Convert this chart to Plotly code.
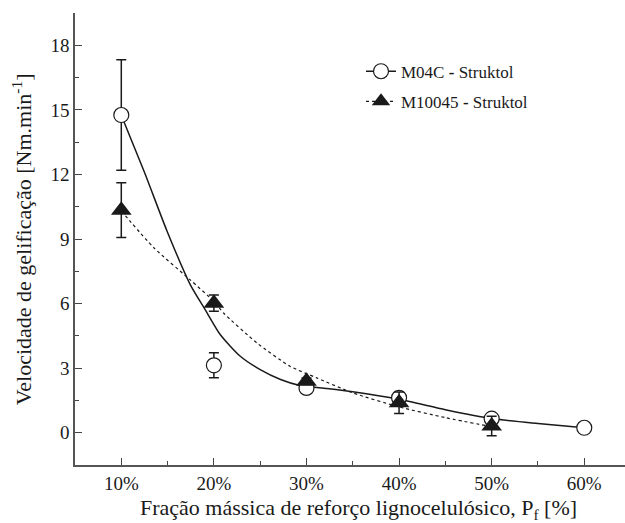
import plotly.graph_objects as go

# Measured data
frac = [10, 20, 30, 40, 50, 60]
m04c = [14.76, 3.13, 2.08, 1.62, 0.65, 0.23]
m04c_err = [2.57, 0.58, 0.2, 0.2, 0.2, 0.2]

frac_b = [10, 20, 30, 40, 50]
m10045 = [10.34, 6.02, 2.39, 1.39, 0.31]
m10045_err = [1.27, 0.38, 0.15, 0.5, 0.45]

# Fitted curves
fit_a_x = [10, 12.5, 14.9, 17.46, 19.07, 20.7, 22.85, 25.0, 27.2, 29.3, 32.2, 35.0, 40.0, 45.0, 50.0, 55.0, 60.0]
fit_a_y = [14.75, 12.1, 9.41, 6.87, 5.71, 4.55, 3.55, 2.93, 2.47, 2.19, 2.05, 1.9, 1.55, 1.07, 0.66, 0.43, 0.23]
fit_b_x = [10, 13.5, 17.45, 20, 21.05, 24.65, 28.25, 31.1, 35, 40, 45, 50]
fit_b_y = [10.3, 8.6, 7.1, 6.1, 5.56, 4.17, 3.08, 2.55, 1.85, 1.2, 0.7, 0.28]

x_ticks = [10, 20, 30, 40, 50, 60]
x_ticklabels = ["10%", "20%", "30%", "40%", "50%", "60%"]
y_ticks = [0, 3, 6, 9, 12, 15, 18]

FONT = "'Liberation Serif', 'Times New Roman', Times, serif"
INK = "#1a1a1a"

fig = go.Figure()

fig.add_trace(go.Scatter(x=fit_a_x, y=fit_a_y, mode="lines",
                         line=dict(color=INK, width=1.5, shape="spline", smoothing=0.6),
                         showlegend=False, hoverinfo="skip"))
fig.add_trace(go.Scatter(x=fit_b_x, y=fit_b_y, mode="lines",
                         line=dict(color=INK, width=1.2, dash="dot", shape="spline", smoothing=0.6),
                         showlegend=False, hoverinfo="skip"))

fig.add_trace(go.Scatter(x=frac, y=m04c, mode="markers",
                         marker=dict(symbol="circle", size=15, color="white", line=dict(color=INK, width=1.2)),
                         error_y=dict(type="data", array=m04c_err, color=INK, thickness=1.5, width=5),
                         showlegend=False))
fig.add_trace(go.Scatter(x=frac_b, y=m10045, mode="markers",
                         marker=dict(symbol="triangle-up", size=18, color=INK, line=dict(color=INK, width=0)),
                         error_y=dict(type="data", array=m10045_err, color=INK, thickness=1.5, width=5),
                         showlegend=False))

# legend entries
fig.add_trace(go.Scatter(x=[None], y=[None], mode="lines+markers", name="M04C <b>-</b> Struktol",
                         legendgroup="a",
                         line=dict(color=INK, width=1.5),
                         marker=dict(symbol="circle", size=15, color="white", line=dict(color=INK, width=1.2))))
fig.add_trace(go.Scatter(x=[None], y=[None], mode="lines+markers", name="M10045 <b>-</b> Struktol",
                         legendgroup="b",
                         line=dict(color=INK, width=1.2, dash="dot"),
                         marker=dict(symbol="triangle-up", size=18, color=INK)))

fig.add_annotation(text="Velocidade de gelificação [Nm.min<sup>-1</sup>]", textangle=-90,
                   xref="paper", yref="paper", x=-0.096, y=0.5, xanchor="center", yanchor="middle",
                   showarrow=False, font=dict(family=FONT, size=22, color=INK))
fig.add_annotation(text="Fração mássica de reforço lignocelulósico, P<sub>f</sub> [%]",
                   xref="paper", yref="paper", x=0.515, y=-0.097, xanchor="center", yanchor="middle",
                   showarrow=False, font=dict(family=FONT, size=22, color=INK))

fig.update_layout(
    width=625, height=523,
    margin=dict(l=75, r=0, t=13, b=58),
    paper_bgcolor="white", plot_bgcolor="white",
    font=dict(family=FONT, size=19, color=INK),
    showlegend=True,
    legend=dict(x=0.52, y=0.91, xanchor="left", yanchor="top", bgcolor="rgba(0,0,0,0)",
                tracegroupgap=5, font=dict(family=FONT, size=17, color=INK)),
    xaxis=dict(range=[5, 64.4], tickvals=x_ticks, ticktext=x_ticklabels, ticks="inside", ticklen=7,
               tickwidth=1.2, tickcolor="#444", showline=True, linecolor="#555", linewidth=1.5,
               showgrid=False, zeroline=False, automargin=False,
               minor=dict(dtick=5, tick0=5, ticks="inside", ticklen=4, tickcolor="#444", tickwidth=1),
               tickfont=dict(family=FONT, size=19, color=INK)),
    yaxis=dict(range=[-1.5, 19.5], tickvals=y_ticks, ticks="inside", ticklen=7,
               tickwidth=1.2, tickcolor="#444", showline=True, linecolor="#555", linewidth=1.5,
               showgrid=False, zeroline=False, automargin=False,
               minor=dict(dtick=1.5, tick0=0, ticks="inside", ticklen=4, tickcolor="#444", tickwidth=1),
               tickfont=dict(family=FONT, size=19, color=INK)),
)

fig.write_html("out.html", post_script="document.body.style.margin='0px';",
               config={"displayModeBar": False})
